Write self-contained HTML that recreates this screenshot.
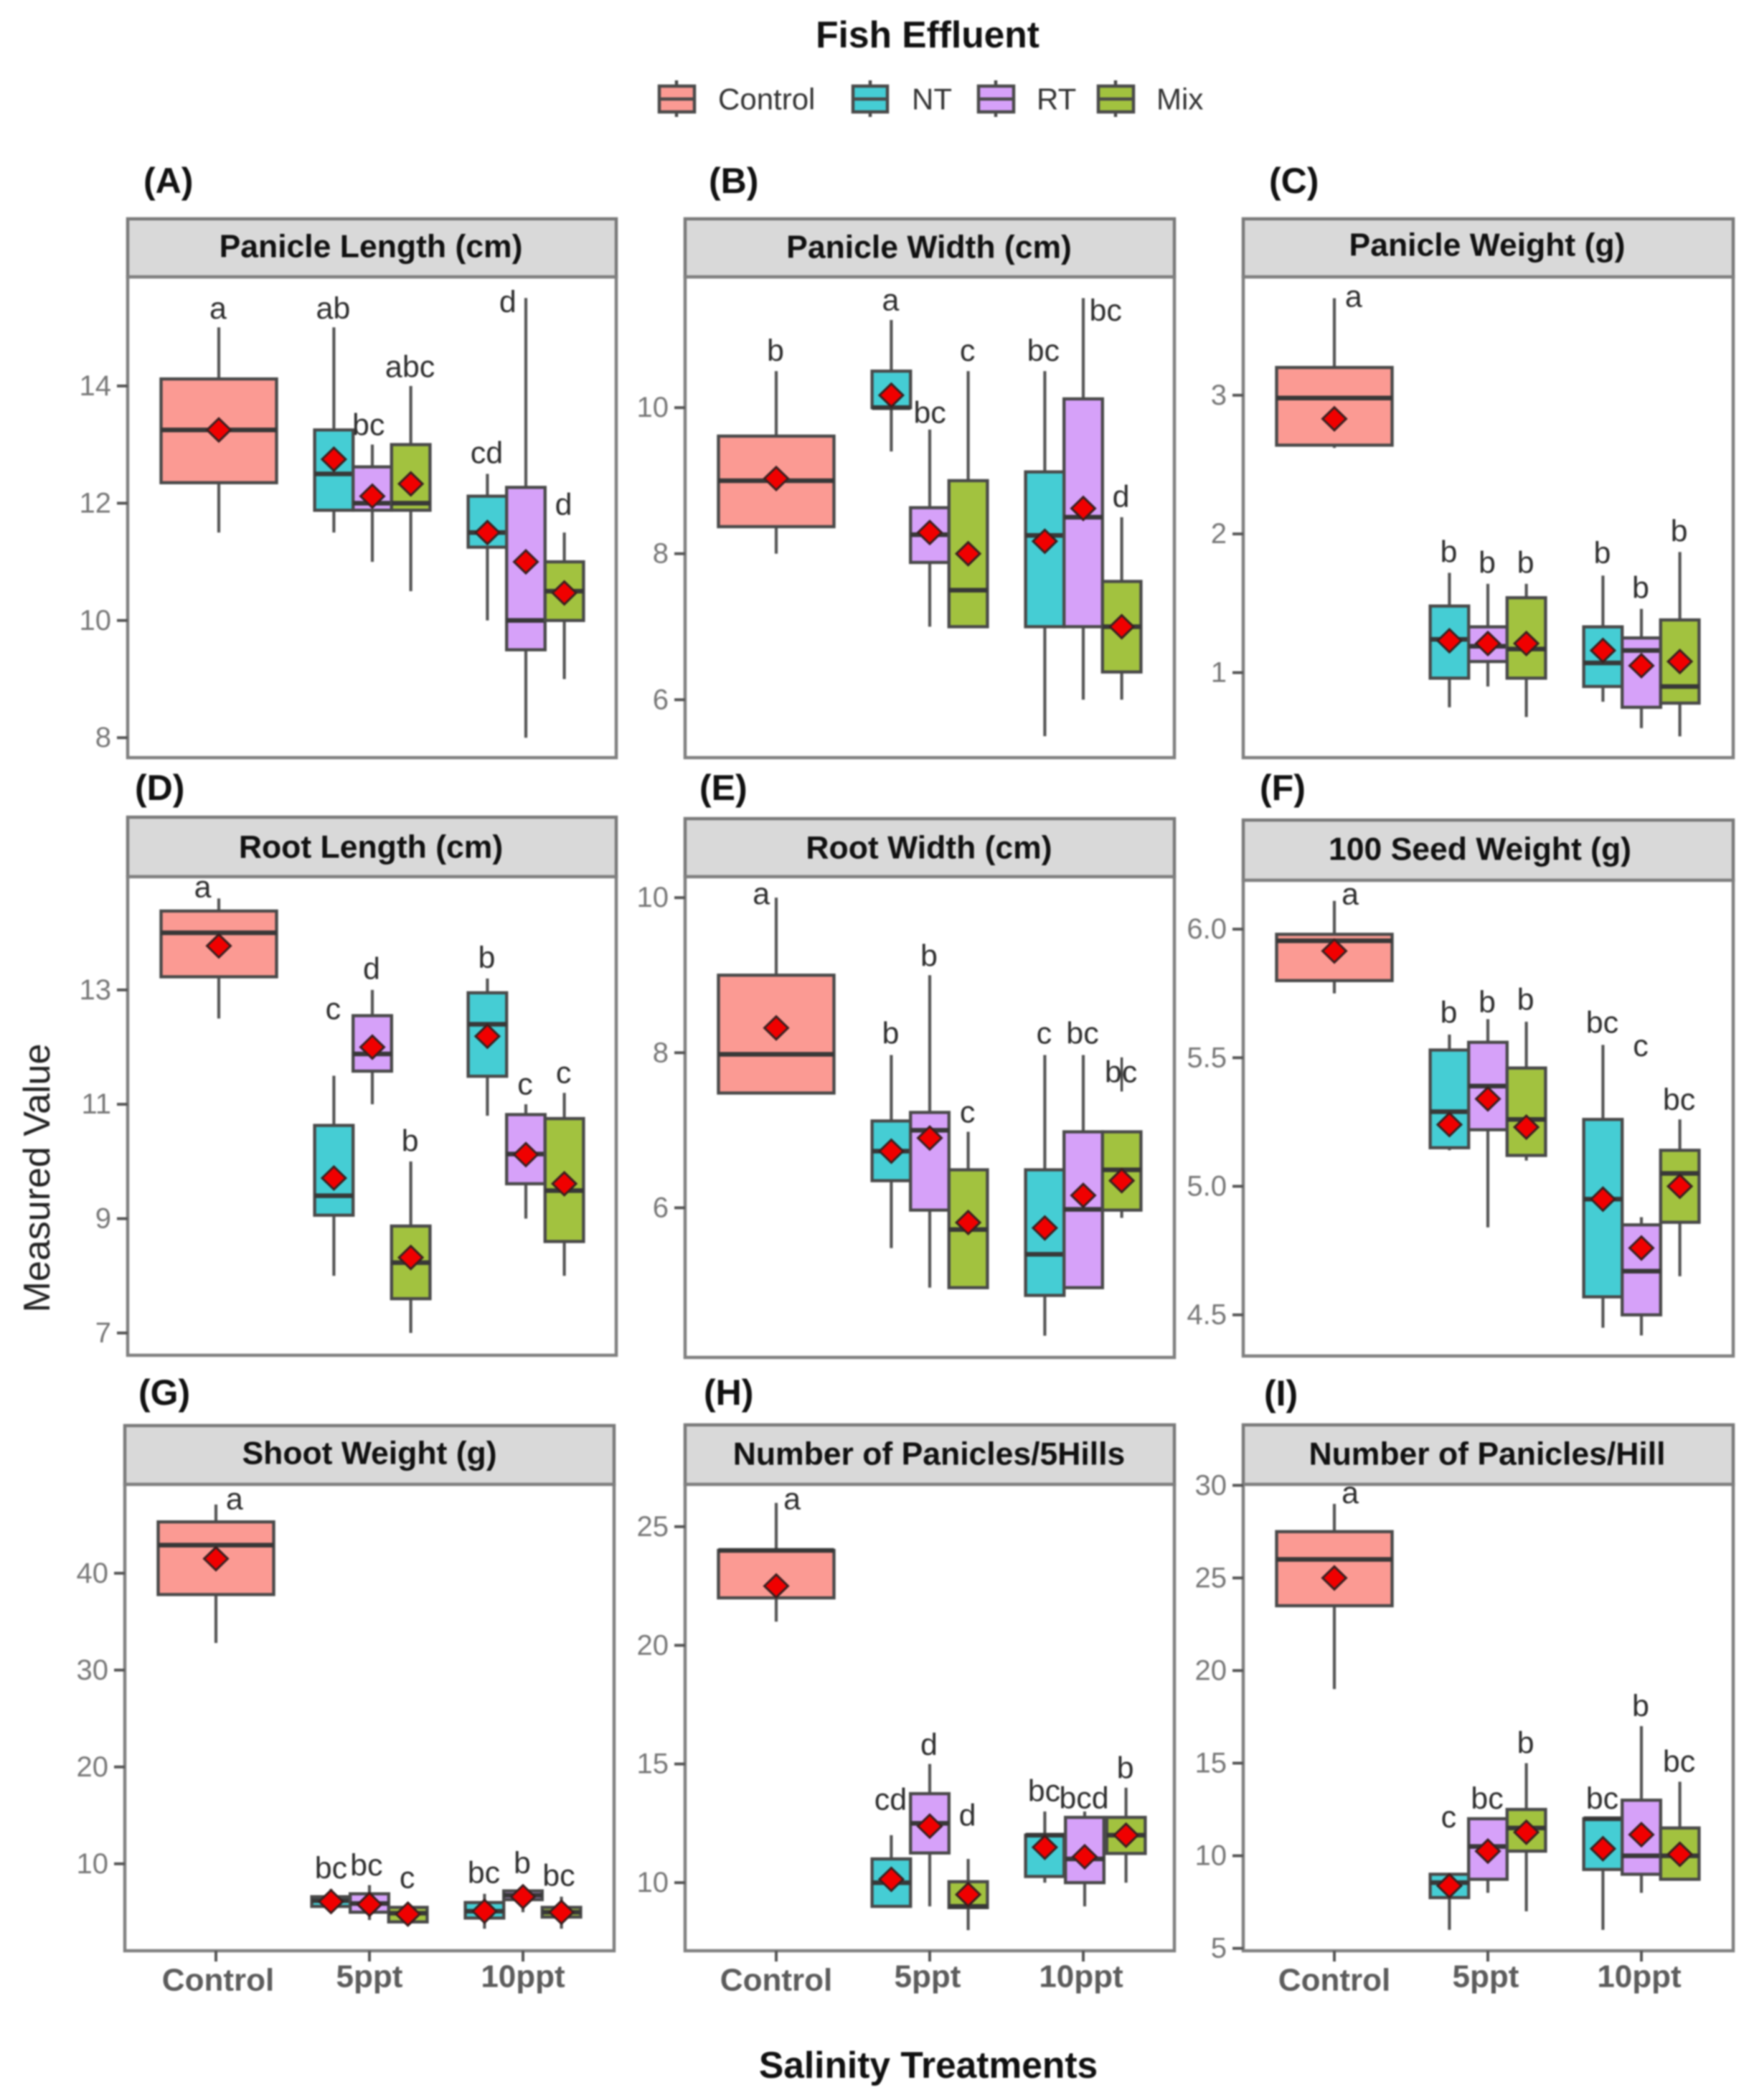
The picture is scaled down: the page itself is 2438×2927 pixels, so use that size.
<!DOCTYPE html>
<html lang="en">
<head>
<meta charset="utf-8">
<title>Fish Effluent Boxplots</title>
<style>
html,body{margin:0;padding:0;background:#fff;}
svg{display:block;filter:blur(1.1px);}
text{font-family:"Liberation Sans",sans-serif;}
</style>
</head>
<body>
<svg id="figure" xmlns="http://www.w3.org/2000/svg" width="2438" height="2927" viewBox="0 0 2438 2927">
  <rect x="0" y="0" width="2438" height="2927" fill="#ffffff"/>
  <text x="1293" y="48" font-size="51.5" font-weight="700" fill="#111" text-anchor="middle" dominant-baseline="central">Fish Effluent</text>
  <g stroke="#4a4a4a" stroke-width="4.5">
    <g>
      <line x1="943" x2="943" y1="112" y2="163"/><rect x="919" y="120" width="49" height="36" fill="#fb9a93"/><line x1="919" x2="968" y1="138" y2="138"/>
      <text x="1001" y="138" font-size="42" fill="#333" stroke="none" dominant-baseline="central">Control</text>
    </g>
    <g>
      <line x1="1213" x2="1213" y1="112" y2="163"/><rect x="1189" y="120" width="48" height="36" fill="#45cdd4"/><line x1="1189" x2="1237" y1="138" y2="138"/>
      <text x="1271" y="138" font-size="42" fill="#333" stroke="none" dominant-baseline="central">NT</text>
    </g>
    <g>
      <line x1="1388" x2="1388" y1="112" y2="163"/><rect x="1364" y="120" width="49" height="36" fill="#d6a1f9"/><line x1="1364" x2="1413" y1="138" y2="138"/>
      <text x="1445" y="138" font-size="42" fill="#333" stroke="none" dominant-baseline="central">RT</text>
    </g>
    <g>
      <line x1="1555" x2="1555" y1="112" y2="163"/><rect x="1531" y="120" width="49" height="36" fill="#a2c23f"/><line x1="1531" x2="1580" y1="138" y2="138"/>
      <text x="1612" y="138" font-size="42" fill="#333" stroke="none" dominant-baseline="central">Mix</text>
    </g>
  </g>
  <text transform="translate(52,1642) rotate(-90)" font-size="52" fill="#222" text-anchor="middle" dominant-baseline="central">Measured Value</text>
  <text x="1294" y="2878" font-size="51.5" font-weight="700" fill="#111" text-anchor="middle" dominant-baseline="central">Salinity Treatments</text>
  <g id="panels"></g>
</svg>
<script>
// Box order in every panel: Control, 5ppt NT, 5ppt RT, 5ppt Mix, 10ppt NT, 10ppt RT, 10ppt Mix
const panelTitles = ["Panicle Length (cm)","Panicle Width (cm)","Panicle Weight (g)","Root Length (cm)","Root Width (cm)","100 Seed Weight (g)","Shoot Weight (g)","Number of Panicles/5Hills","Number of Panicles/Hill"];
const panelTags = ["(A)","(B)","(C)","(D)","(E)","(F)","(G)","(H)","(I)"];
const categories = ["Control","5ppt","10ppt"];
const seriesNames = ["Control","NT","RT","Mix","NT","RT","Mix"];
const yTickLabels = [
  ["8","10","12","14"],
  ["6","8","10"],
  ["1","2","3"],
  ["7","9","11","13"],
  ["6","8","10"],
  ["4.5","5.0","5.5","6.0"],
  ["10","20","30","40"],
  ["10","15","20","25"],
  ["5","10","15","20","25","30"]
];
const yDomainLow = [7.66,5.207,0.387,6.61,4.07,4.34,1.02,7.13,4.87];
const yDomainHigh = [15.86,11.79,3.853,14.98,10.27,6.19,49.17,26.78,30.05];
const whiskerLow = [
  [11.5,11.5,11,10.5,10,8,9],
  [8,9.4,7,7,5.5,6,6],
  [2.62,0.75,0.9,0.68,0.79,0.6,0.54],
  [12.5,8,11,7,10.8,9,8],
  [7.5,5.48,4.97,4.97,4.35,4.97,5.87],
  [5.75,5.14,4.84,5.1,4.45,4.42,4.65],
  [32.8,5,4.2,3.7,3.3,5,3.3],
  [21,9,9,8,10,9,10],
  [19,6,8,7,6,8,8.73]
];
const boxQ1 = [
  [12.35,11.88,11.88,11.88,11.25,9.5,10],
  [8.37,10,7.88,7,7,7,6.38],
  [2.64,0.96,1.08,0.96,0.9,0.75,0.78],
  [13.23,9.06,11.58,7.6,11.49,9.61,8.6],
  [7.48,6.35,5.97,4.97,4.87,4.97,5.97],
  [5.8,5.15,5.22,5.12,4.57,4.5,4.86],
  [37.8,5.6,5,4,4.4,6.3,4.5],
  [22,9,11.25,8.95,10.26,10,11.23],
  [23.5,7.74,8.73,10.25,9.26,9,8.73]
];
const boxMedian = [
  [13.25,12.5,12,12,11.5,10,10.5],
  [9,10,8.26,7.5,8.25,8.5,7],
  [2.98,1.24,1.19,1.17,1.07,1.16,0.9],
  [14,9.4,11.88,8.23,12.4,10.13,9.49],
  [7.98,6.73,7,5.72,5.4,5.98,6.49],
  [5.955,5.29,5.39,5.26,4.95,4.67,5.05],
  [42.9,6.2,5.9,4.9,5.1,6.75,5],
  [24,10,12.5,9,12,11,12],
  [26,8.55,10.5,11.5,12,10,10]
];
const boxQ3 = [
  [14.12,13.25,12.62,13,12.12,12.27,11],
  [9.61,10.5,8.63,9,9.12,10.12,7.62],
  [3.2,1.48,1.33,1.54,1.33,1.25,1.38],
  [14.38,10.63,12.55,8.87,12.95,10.82,10.75],
  [9,7.12,7.23,6.49,6.49,6.98,6.98],
  [5.98,5.53,5.56,5.46,5.26,4.85,5.14],
  [45.3,6.6,6.9,5.5,6,7.2,5.5],
  [24,11,13.75,10.04,12,12.75,12.75],
  [27.5,9,12,12.5,12,13,11.5]
];
const whiskerHigh = [
  [15,15,13,14,12.5,15.5,11.5],
  [10.5,11.2,9.7,10.5,10.5,11.5,8.5],
  [3.7,1.72,1.64,1.64,1.7,1.46,1.87],
  [14.6,11.5,13,10,13.2,11,11.2],
  [10,7.97,9,6.98,7.97,7.97,6.68],
  [6.11,5.59,5.65,5.64,5.55,4.88,5.26],
  [47.1,7.4,7.8,5.9,6.9,7.8,6.6],
  [26,12,15,11,13,13,14],
  [29,8.93,12,15,12,17,14]
];
const meanValue = [
  [13.25,12.75,12.12,12.33,11.5,11,10.47],
  [9.03,10.17,8.29,8,8.17,8.62,7],
  [2.83,1.23,1.21,1.21,1.16,1.05,1.08],
  [13.77,9.71,12,8.32,12.19,10.12,9.61],
  [8.32,6.73,6.9,5.81,5.74,6.16,6.35],
  [5.915,5.24,5.34,5.23,4.95,4.76,5],
  [41.5,6.1,5.8,4.8,5.1,6.6,5],
  [22.5,10.14,12.38,9.5,11.49,11.09,12],
  [25,8.38,10.25,11.27,10.38,11.14,10.08]
];
const letters = [
  ["a","ab","bc","abc","cd","d","d"],
  ["b","a","bc","c","bc","bc","d"],
  ["a","b","b","b","b","b","b"],
  ["a","c","d","b","b","c","c"],
  ["a","b","b","c","c","bc","bc"],
  ["a","b","b","b","bc","c","bc"],
  ["a","bc","bc","c","bc","b","bc"],
  ["a","cd","d","d","bc","bcd","b"],
  ["a","c","bc","b","bc","b","bc"]
];
// Height of each significance letter, in the panel's data units
const letterValue = [
  [15.3,15.3,13.31,14.3,12.83,15.41,11.95],
  [10.76,11.45,9.91,10.76,10.76,11.31,8.76],
  [3.7,1.86,1.78,1.78,1.85,1.6,2.01],
  [14.77,12.64,13.34,10.33,13.54,11.32,11.52],
  [10.03,8.23,9.23,7.21,8.23,8.23,7.73],
  [6.13,5.67,5.71,5.72,5.63,5.54,5.33],
  [47.5,9.4,9.7,8.4,8.9,9.9,8.6],
  [26.1,13.43,15.75,12.77,13.8,13.5,14.76],
  [29.5,12,13,16,13,18,15]
];
// Sideways nudge of each letter, in box-widths
const letterNudge = [
  [0,0,-0.08,0,0,-0.45,0],
  [0,0,0.02,0,-0.02,0.6,0],
  [0.52,0,0,0,0,0,0],
  [-0.4,0,0,0,0,0,0],
  [-0.37,0,0,0,0,0,0],
  [0.43,0,0,0,0,0,0],
  [0.5,0.02,-0.06,0,0,0,-0.05],
  [0.43,0,0,0,0,0,0],
  [0.43,0,0,0,0,0,0]
];
// Stray whisker fragment visible through the "bc" label of Root Width, 10ppt Mix
const rootWidthStrayLow = 7.5;
const rootWidthStrayHigh = 7.94;

const fills = ["#fb9a93","#45cdd4","#d6a1f9","#a2c23f","#45cdd4","#d6a1f9","#a2c23f"];
const layout = [
  {left:178,right:859,top:305,plotTop:386,bottom:1056,tagX:200,tagY:252,titleX:517,titleY:344},
  {left:955,right:1637,top:305,plotTop:386,bottom:1056,tagX:988,tagY:252,titleX:1295,titleY:345},
  {left:1733,right:2416,top:305,plotTop:386,bottom:1056,tagX:1769,tagY:252,titleX:2073,titleY:342},
  {left:178,right:859,top:1139,plotTop:1222,bottom:1889,tagX:188,tagY:1098,titleX:517,titleY:1181},
  {left:955,right:1637,top:1141,plotTop:1222,bottom:1892,tagX:975,tagY:1098,titleX:1295,titleY:1182},
  {left:1733,right:2416,top:1143,plotTop:1227,bottom:1890,tagX:1756,tagY:1098,titleX:2063,titleY:1184},
  {left:174,right:856,top:1987,plotTop:2069,bottom:2719,tagX:193,tagY:1941,titleX:515,titleY:2026},
  {left:955,right:1637,top:1986,plotTop:2069,bottom:2719,tagX:981,tagY:1941,titleX:1295,titleY:2027},
  {left:1733,right:2416,top:1986,plotTop:2069,bottom:2719,tagX:1762,tagY:1942,titleX:2073,titleY:2027}
];
const NS = "http://www.w3.org/2000/svg";
const BAND = 214, DODGE = 53.6, CONTROL_W = 161, FIRST = 127;
const root = document.getElementById("panels");

function make(parent, tag, attrs, txt) {
  const el = document.createElementNS(NS, tag);
  for (const k in attrs) el.setAttribute(k, attrs[k]);
  if (txt !== undefined) el.textContent = txt;
  parent.appendChild(el);
  return el;
}
function slotX(L, b, p) { // category-centre + dodge position for box index b
  const c0 = L.left + FIRST;
  if (b === 0) return c0;
  const cat = b <= 3 ? 1 : 2;
  const off = b <= 3 ? b - 2 : b - 5;
  // Panel H's 10ppt group is drawn slightly wider in the reference
  const stretch = (p === 7 && b >= 5) ? (b === 5 ? 2 : 6) : 0;
  return c0 + cat * BAND + off * DODGE + stretch;
}

panelTitles.forEach(function (title, p) {
  const L = layout[p];
  const y = function (v) {
    return L.bottom - (v - yDomainLow[p]) / (yDomainHigh[p] - yDomainLow[p]) * (L.bottom - L.plotTop);
  };
  const g = make(root, "g", {});
  
  

  const tag = make(g, "text", {x: L.tagX, y: L.tagY, "font-size": 50, "font-weight": 700, fill: "#111", "dominant-baseline": "central"}, panelTags[p]);
  
  

  const strip = make(g, "rect", {x: L.left, y: L.top, width: L.right - L.left, height: L.plotTop - L.top, fill: "#d9d9d9", stroke: "#7a7a7a", "stroke-width": 4.5});
  
  

  const tt = make(g, "text", {x: L.titleX, y: L.titleY, "font-size": 44.5, "font-weight": 700, fill: "#111", "text-anchor": "middle", "dominant-baseline": "central"}, title);
  
  

  const bg = make(g, "rect", {x: L.left, y: L.plotTop, width: L.right - L.left, height: L.bottom - L.plotTop, fill: "#ffffff", stroke: "#808080", "stroke-width": 4.5});
  
  

  yTickLabels[p].forEach(function (label) {
    const v = Number(label), py = y(v);
    const t = make(g, "line", {x1: L.left - 15, x2: L.left, y1: py, y2: py, stroke: "#555", "stroke-width": 4});
    
    
    const tl = make(g, "text", {x: L.left - 23, y: py, "font-size": 40, fill: "#777", "text-anchor": "end", "dominant-baseline": "central"}, label);
    
    
  });

  if (p >= 6) {
    categories.forEach(function (cat, c) {
      const px = L.left + FIRST + c * BAND;
      const t = make(g, "line", {x1: px, x2: px, y1: L.bottom, y2: L.bottom + 15, stroke: "#555", "stroke-width": 4});
      
      
      const tl = make(g, "text", {x: px + (c === 0 ? 3 : 0) - (p >= 7 ? 3 : 0), y: c === 0 ? 2760 : 2755, "font-size": 44, "font-weight": 700, fill: "#5c5c5c", "text-anchor": "middle", "dominant-baseline": "central"}, cat);
      
      
    });
  }

  seriesNames.forEach(function (series, b) {
    const cx = slotX(L, b, p);
    const w = b === 0 ? CONTROL_W : DODGE;
    const box = make(g, "g", {});
    
    

    make(box, "line", {x1: cx, x2: cx, y1: y(whiskerLow[p][b]), y2: y(whiskerHigh[p][b]), stroke: "#555", "stroke-width": 4.2});
    make(box, "rect", {x: cx - w / 2, y: y(boxQ3[p][b]), width: w, height: Math.max(0, y(boxQ1[p][b]) - y(boxQ3[p][b])), fill: fills[b], stroke: "#4a4a4a", "stroke-width": 4.4});
    make(box, "line", {x1: cx - w / 2, x2: cx + w / 2, y1: y(boxMedian[p][b]), y2: y(boxMedian[p][b]), stroke: "#383838", "stroke-width": 6.5});
    const my = y(meanValue[p][b]);
    const pts = [[cx, my - 16], [cx + 16.5, my], [cx, my + 16], [cx - 16.5, my]].map(function (q) { return q.join(","); }).join(" ");
    make(box, "polygon", {points: pts, fill: "#f00000", stroke: "#3a2020", "stroke-width": 3});
  });

  if (p === 4) {
    const cx = slotX(L, 6, p);
    const s = make(g, "line", {x1: cx, x2: cx, y1: y(rootWidthStrayLow), y2: y(rootWidthStrayHigh), stroke: "#444", "stroke-width": 3.4});
    
    
  }

  letters[p].forEach(function (txt, b) {
    const lx = slotX(L, b, p) + letterNudge[p][b] * DODGE;
    const lt = make(g, "text", {x: lx - 1, y: y(letterValue[p][b]) - 2, "font-size": 43, fill: "#2e2e2e", "text-anchor": "middle", "dominant-baseline": "central"}, txt);
    
    
  });
});
</script>
</body>
</html>
